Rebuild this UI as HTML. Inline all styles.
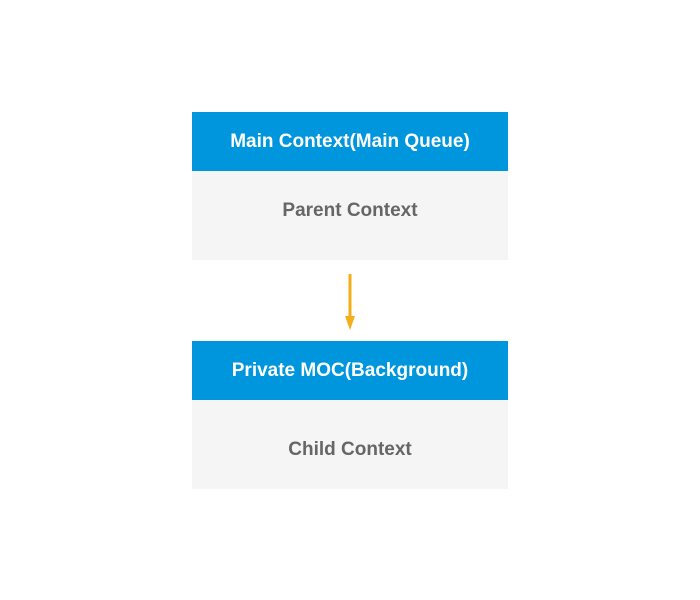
<!DOCTYPE html>
<html><head><meta charset="utf-8"><style>
html,body{margin:0;padding:0;background:#fff;width:700px;height:600px;overflow:hidden}
.b{position:absolute;left:192px;width:316px;font-family:"Liberation Sans",sans-serif;font-weight:bold;font-size:19px;text-align:center;box-sizing:border-box}
.h{background:#0096dd;color:#fff;height:59px;line-height:59px}
.c{background:#f5f5f5;color:#666;height:89px}
</style></head><body>
<div class="b h" style="top:112px">Main Context(Main Queue)</div>
<div class="b c" style="top:171px;line-height:80px">Parent Context</div>
<svg style="position:absolute;left:0;top:0" width="700" height="600">
<line x1="350" y1="274" x2="350" y2="318" stroke="#f5ae1a" stroke-width="3"/>
<polygon points="345,316 355,316 350,330" fill="#f5ae1a"/>
</svg>
<div class="b h" style="top:341px">Private MOC(Background)</div>
<div class="b c" style="top:400px;line-height:100px">Child Context</div>
</body></html>
